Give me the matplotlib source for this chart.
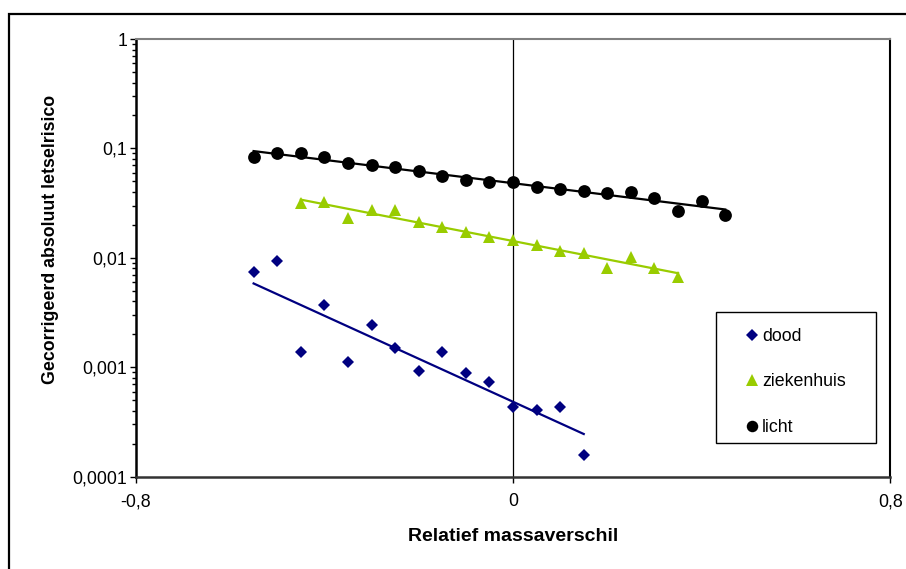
import matplotlib
matplotlib.use('Agg')
import matplotlib.pyplot as plt
from matplotlib.patches import Rectangle
from matplotlib.ticker import FixedLocator, LogLocator, NullFormatter, FuncFormatter
import numpy as np

plt.rcParams['font.family'] = ['Liberation Sans', 'DejaVu Sans']

# relatief massaverschil per klasse
x_dood = [-0.55, -0.50, -0.45, -0.40, -0.35, -0.30, -0.25, -0.20,
          -0.15, -0.10, -0.05, 0.00, 0.05, 0.10, 0.15]
x_zieken = [-0.45, -0.40, -0.35, -0.30, -0.25, -0.20, -0.15, -0.10, -0.05,
            0.00, 0.05, 0.10, 0.15, 0.20, 0.25, 0.30, 0.35]
x_licht = [-0.55, -0.50, -0.45, -0.40, -0.35, -0.30, -0.25, -0.20, -0.15,
           -0.10, -0.05, 0.00, 0.05, 0.10, 0.15, 0.20, 0.25, 0.30, 0.35,
           0.40, 0.45]

# gecorrigeerd absoluut letselrisico
y_dood = [0.0074, 0.0093, 0.00139, 0.0037, 0.00111, 0.00245, 0.00150,
          0.00093, 0.00139, 0.00089, 0.00074, 0.00043, 0.00041, 0.00043,
          0.000159]
y_zieken = [0.0314, 0.0326, 0.0231, 0.0275, 0.0275, 0.0211, 0.0190, 0.0174,
            0.0156, 0.0145, 0.0132, 0.0116, 0.0110, 0.0081, 0.0102, 0.0081,
            0.0067]
y_licht = [0.083, 0.090, 0.091, 0.083, 0.074, 0.070, 0.067, 0.062, 0.056,
           0.052, 0.049, 0.049, 0.044, 0.043, 0.0405, 0.039, 0.040, 0.035,
           0.027, 0.033, 0.0244]

series = [
    ('dood', x_dood, y_dood, '#000080', 'D', 6.5),
    ('ziekenhuis', x_zieken, y_zieken, '#99CC00', '^', 9.0),
    ('licht', x_licht, y_licht, '#000000', 'o', 9.2),
]

fig = plt.figure(figsize=(9.06, 5.69), dpi=100)
W, H = 906, 569
ax = fig.add_axes([135.7 / W, 1 - 476.7 / H, (890.3 - 135.7) / W, (476.7 - 39) / H])

# buitenkader
fig.patches.append(Rectangle((9 / W, -0.1), 1.2, 1.1 - 14 / H, transform=fig.transFigure,
                             fill=False, edgecolor='black', linewidth=1.6, zorder=0))

ax.axvline(0, color='black', linewidth=0.9, zorder=1)

handles = []
for name, xs, ys, color, marker, ms in series:
    xs = np.array(xs)
    ys = np.array(ys)
    # exponentiële trendlijn
    b, a = np.polyfit(xs, np.log(ys), 1)
    xt = np.array([xs.min(), xs.max()])
    ax.plot(xt, np.exp(a + b * xt), color=color, linewidth=1.6, zorder=2)
    h, = ax.plot(xs, ys, linestyle='none', marker=marker, markersize=ms,
                 color=color, markeredgewidth=0, zorder=3, label=name)
    handles.append(h)

ax.set_yscale('log')
ax.set_ylim(0.0001, 1)
ax.set_xlim(-0.8, 0.8)

ax.xaxis.set_major_locator(FixedLocator([-0.8, 0, 0.8]))
ax.xaxis.set_major_formatter(FuncFormatter(lambda v, p: ('%g' % v).replace('.', ',')))
ax.yaxis.set_major_locator(LogLocator(base=10, numticks=10))
ax.yaxis.set_minor_locator(LogLocator(base=10, subs=np.arange(2, 10), numticks=10))
ax.yaxis.set_minor_formatter(NullFormatter())
ax.yaxis.set_major_formatter(FuncFormatter(
    lambda v, p: ('%.4f' % v).rstrip('0').rstrip('.').replace('.', ',') if v < 1 else '1'))

ax.tick_params(axis='both', which='major', direction='out', length=4, width=1,
               labelsize=12.8, colors='black')
ax.tick_params(axis='y', which='minor', direction='out', length=3, width=1)
ax.tick_params(axis='x', pad=8)
ax.tick_params(axis='y', pad=2)

ax.spines['top'].set_color('#808080')
ax.spines['top'].set_linewidth(1.5)
ax.spines['right'].set_color('black')
ax.spines['right'].set_linewidth(1.5)
ax.spines['left'].set_color('black')
ax.spines['left'].set_linewidth(1.8)
ax.spines['bottom'].set_color('#333333')
ax.spines['bottom'].set_linewidth(1.8)

ax.set_xlabel('Relatief massaverschil', fontsize=14, fontweight='bold', labelpad=12.5)
ax.set_ylabel('Gecorrigeerd absoluut letselrisico', fontsize=12.8, fontweight='bold')
ax.yaxis.set_label_coords((59 - 135.7) / 754.6, (476.7 - 239.5) / 437.7)

# legendakader
fig.patches.append(Rectangle((716 / W, 1 - 443 / H), 160 / W, 131 / H,
                             transform=fig.transFigure, fill=False,
                             edgecolor='black', linewidth=1.0, zorder=4))
fig.legend(handles=handles, loc='upper left', bbox_to_anchor=(746 / W, 1 - 328 / H),
           frameon=False, fontsize=12.8, handlelength=0.7, handletextpad=0.2,
           labelspacing=1.6, borderpad=0, borderaxespad=0, markerscale=0.9)

fig.savefig('out.png', dpi=100)
